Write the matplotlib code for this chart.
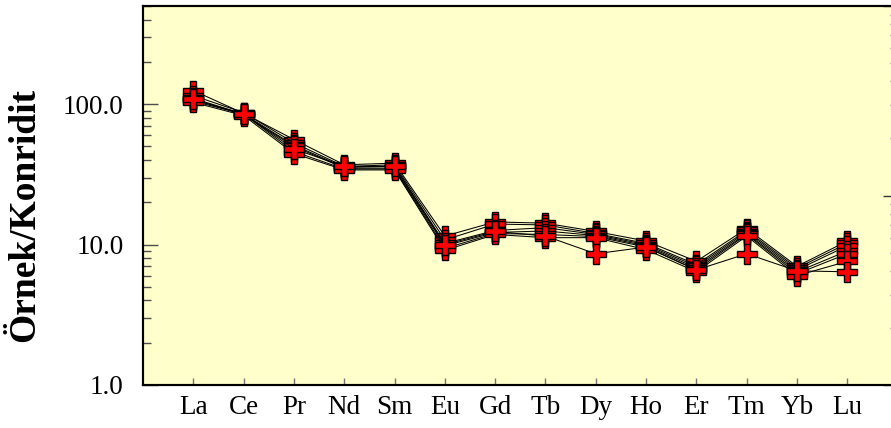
import numpy as np
import matplotlib
matplotlib.use("Agg")
import matplotlib.pyplot as plt
from matplotlib.ticker import LogLocator, NullFormatter, FuncFormatter

plt.rcParams['font.family'] = ['Liberation Serif', 'DejaVu Serif']

# REE, kondrite normalize degerler
elements = ['La', 'Ce', 'Pr', 'Nd', 'Sm', 'Eu', 'Gd', 'Tb', 'Dy', 'Ho', 'Er', 'Tm', 'Yb', 'Lu']
s1 = [125, 86, 56, 37.0, 38.0, 11.5, 14.5, 14.2, 12.4, 10.6, 7.6, 13.0, 7.0, 10.6]
s2 = [115, 87, 53, 36.0, 37.0, 10.8, 14.0, 13.8, 12.0, 10.2, 7.2, 12.6, 6.8, 10.2]
s3 = [110, 85, 51, 35.5, 36.0, 10.2, 12.6, 13.2, 11.8, 10.0, 7.0, 12.3, 6.6, 9.8]
s4 = [108, 84, 50, 35.0, 35.0, 9.8, 12.2, 12.5, 11.6, 9.8, 6.8, 12.0, 6.4, 9.0]
s5 = [105, 85, 46, 34.5, 34.5, 9.4, 12.0, 11.8, 11.4, 9.6, 6.6, 11.8, 6.2, 8.6]
s6 = [103, 83, 44.5, 34.0, 34.0, 9.1, 11.8, 11.2, 11.2, 9.2, 6.4, 11.5, 6.0, 7.6]
s7 = [108, 85, 48, 36.0, 36.0, 10.0, 12.4, 11.5, 8.6, 9.6, 6.6, 8.6, 6.5, 6.4]
samples = [s1, s2, s3, s4, s5, s6, s7]

fig = plt.figure(figsize=(8.91, 4.28), dpi=100)
ax = fig.add_axes([143 / 891, 43 / 428, 754.6 / 891, 379 / 428])
ax.set_facecolor('#FFFFCC')

x = np.arange(1, len(elements) + 1)
for s in samples:
    ax.plot(x, s, color='black', lw=0.75, marker='P', ms=14,
            mfc='red', mec='black', mew=1.0, zorder=3)

ax.set_yscale('log')
ax.set_ylim(1, 500)
ax.set_xlim(0, 15)

ax.set_yticks([1, 10, 100])
ax.yaxis.set_major_formatter(FuncFormatter(lambda v, p: f'{v:.1f}'))
ax.yaxis.set_minor_locator(LogLocator(base=10, subs=np.arange(2, 10)))
ax.yaxis.set_minor_formatter(NullFormatter())
ax.tick_params(axis='y', which='major', direction='in', length=10.8, width=1,
               color='0.3', labelsize=19.5, pad=14, right=False)
ax.tick_params(axis='y', which='minor', direction='in', length=5.5, width=1,
               color='0.3', right=False)

ax.set_xticks(x)
ax.set_xticklabels(elements)
ax.tick_params(axis='x', which='both', direction='in', length=5, width=1,
               color='0.45', labelsize=19.5, pad=7, top=False)

for sp in ax.spines.values():
    sp.set_linewidth(1.5)

ax.set_ylabel('Örnek/Konridit', fontsize=27, fontweight='bold')
ax.yaxis.set_label_coords(-0.134, 0.449)

# sag eksen (iki dekad)
ax2 = ax.twinx()
ax2.set_yscale('log')
ax2.set_ylim(1, 100)
ax2.yaxis.set_minor_locator(LogLocator(base=10, subs=np.arange(2, 10)))
ax2.yaxis.set_minor_formatter(NullFormatter())
ax2.tick_params(axis='y', which='major', direction='in', length=10.8, width=1,
                color='0.2', labelright=False, left=False)
ax2.tick_params(axis='y', which='minor', direction='in', length=5.5, width=1,
                color='0.45', labelright=False, left=False)
for sp in ax2.spines.values():
    sp.set_linewidth(1.5)

fig.savefig('out.png', dpi=100)
